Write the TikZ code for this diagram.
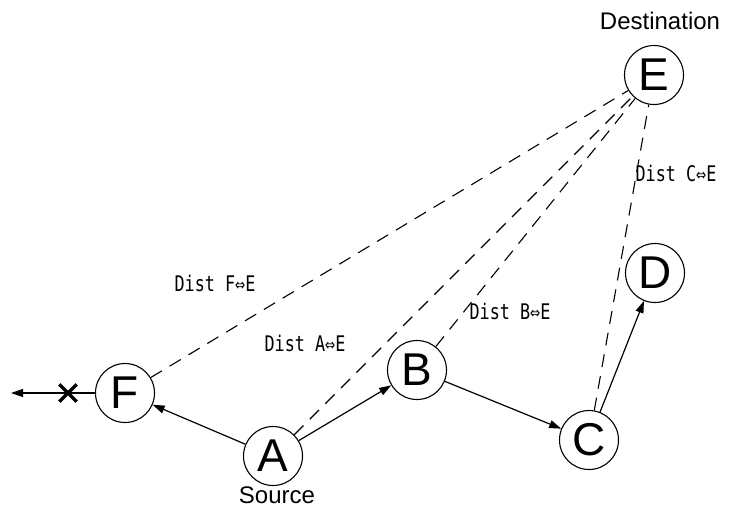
\documentclass[tikz,border=0pt]{standalone}
\usepackage{fontspec}
\setmainfont{Liberation Sans}
\newfontfamily\lblfont{DejaVu Sans Mono}
\usetikzlibrary{arrows.meta}
\newcommand{\narrow}[1]{\scalebox{0.78}[1]{#1}}
\begin{document}
\begin{tikzpicture}[x=1pt,y=-1pt,
  hop/.style={draw,circle,line width=1.1pt,inner sep=0pt,minimum size=59pt,
    font=\fontsize{46}{46}\selectfont},
  link/.style={line width=1.2pt,-{Triangle[length=12pt,width=8pt]}},
  dist/.style={dash pattern=on 13pt off 9pt,line width=1.1pt},
  distlbl/.style={font=\lblfont\fontsize{21.5}{21.5}\selectfont,inner sep=0pt},
  caption/.style={font=\fontsize{24}{24}\selectfont,inner sep=0pt}]
\useasboundingbox (0,0) rectangle (731,512);

% routing hops
\node[hop] (E) at (654,75) {E};
\node[hop] (D) at (655,273) {D};
\node[hop] (B) at (417,370) {B};
\node[hop] (C) at (589,440) {C};
\node[hop] (A) at (273,456) {A};
\node[hop] (F) at (125,393) {F};

\node[caption] (dst) at (660,21) {Destination};
\node[caption] (src) at (277,495) {Source};

% distances to the destination
\draw[dist] (F) -- (E);
\draw[dist] (A) -- (E);
\draw[dist] (B) -- (E);
\draw[dist] (C) -- (E);

\node[distlbl] (lF) at (215,283) {\narrow{Dist F⇔E}};
\node[distlbl] (lA) at (305,343) {\narrow{Dist A⇔E}};
\node[distlbl] (lB) at (510,311) {\narrow{Dist B⇔E}};
\node[distlbl] (lC) at (676,173) {\narrow{Dist C⇔E}};

% forwarding path
\draw[link] (A) -- (F);
\draw[link] (A) -- (B);
\draw[link] (B) -- (C);
\draw[link] (C) -- (D);

% dead end beyond F
\coordinate (out) at (11,393);
\node[minimum size=17pt,inner sep=0pt] (X) at (68,393) {};
\draw[line width=3.2pt] (X.north west) -- (X.south east)
                        (X.north east) -- (X.south west);
\draw[link] (F) -- (out);
\end{tikzpicture}
\end{document}
